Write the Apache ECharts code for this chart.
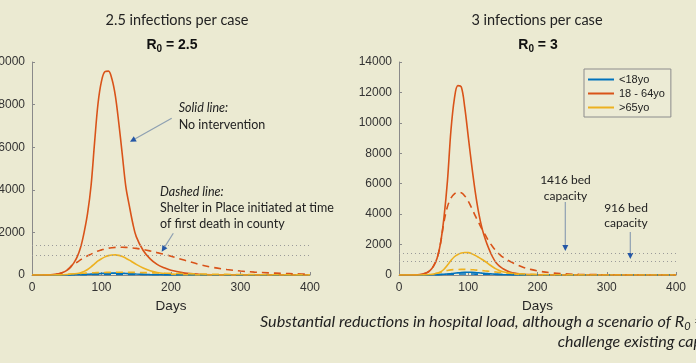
<!DOCTYPE html>
<html>
<head>
<meta charset="utf-8">
<script src="https://cdn.jsdelivr.net/npm/echarts@6/dist/echarts.min.js"></script>
<style>
html,body{margin:0;padding:0;background:#ebead2;}
#c{width:696px;height:363px;}
</style>
</head>
<body>
<div id="c"></div>
<script>
// ---- data ----
const days = [0,10,20,30,40,45,50,55,60,65,70,75,80,85,90,95,100,105,110,115,120,125,130,135,140,145,150,160,170,180,190,200,220,240,260,280,300,320,340,360,380,400];
const xTicks = [0,100,200,300,400];
const legendNames = ['<18yo','18 - 64yo','>65yo'];
const bedCapacity = [1416, 916];

// R0 = 2.5 (left)
const L_young   = [0,0,0,1,3,4,6,8,11,15,20,27,34,43,52,61,70,78,84,88,88,85,79,71,62,53,44,30,19,12,7,4,1,0,0,0,0,0,0,0,0,0];
const L_mid     = [0,0,5,20,70,130,220,360,560,850,1300,2000,2900,4200,6200,8050,9100,9550,9570,9200,8400,7100,5630,4150,3260,2430,1800,1150,760,500,340,220,90,35,12,5,0,0,0,0,0,0];
const L_old     = [0,0,0,2,8,15,25,40,55,70,110,170,260,380,520,660,760,850,910,940,945,920,870,790,700,600,500,330,200,120,70,40,12,4,0,0,0,0,0,0,0,0];
const L_young_d = [0,0,0,1,3,4,6,8,11,13,15,17,19,21,23,25,26,27,28,29,30,30,30,30,29,29,28,27,25,23,21,19,16,13,10,8,6,5,4,3,2,2];
const L_mid_d   = [0,0,5,20,70,130,220,360,560,600,720,820,900,980,1060,1130,1180,1230,1260,1280,1295,1300,1300,1295,1285,1270,1250,1200,1130,1050,970,880,690,500,360,260,185,135,100,75,55,40];
const L_old_d   = [0,0,0,2,8,15,25,40,55,65,75,85,95,102,108,113,117,120,123,125,126,127,127,126,125,123,120,113,105,95,86,78,62,48,37,28,21,16,12,9,7,5];

// R0 = 3 (right)
const R_young   = [0,0,0,1,4,7,12,20,32,48,68,90,115,140,162,178,185,180,165,145,122,100,80,63,48,36,27,15,8,4,2,1,0,0,0,0,0,0,0,0,0,0];
const R_mid     = [0,0,5,30,150,300,600,1100,2100,3800,6200,9500,11600,12450,12350,11000,9100,7200,5500,4100,3050,2300,1700,1200,820,580,420,200,100,50,25,12,3,0,0,0,0,0,0,0,0,0];
const R_old     = [0,0,0,3,15,30,60,110,200,380,650,950,1200,1350,1440,1480,1470,1400,1290,1160,1020,870,700,540,400,290,210,110,55,25,12,5,1,0,0,0,0,0,0,0,0,0];
const R_young_d = [0,0,0,1,4,7,12,20,30,38,45,51,56,60,62,63,63,62,60,58,55,52,48,45,41,38,35,29,24,19,15,12,7,4,2,1,1,0,0,0,0,0];
const R_mid_d   = [0,0,5,30,150,300,600,1100,2100,3500,4500,5050,5330,5430,5400,5200,4850,4400,3900,3450,3000,2600,2200,1880,1600,1370,1170,900,680,500,370,270,140,75,42,26,16,10,6,4,3,2];
const R_old_d   = [0,0,0,3,15,30,60,110,180,250,300,335,355,365,370,368,360,348,332,312,290,266,242,218,195,173,153,118,88,65,48,35,18,9,5,3,2,1,1,0,0,0];

// ---- styling ----
const COLORS = ['#0072BD','#D95319','#EDB120'];
const AXIS_FONT = 'Liberation Sans, Arial, sans-serif';
const NOTE_FONT = 'Lato, sans-serif';

function pairs(vals){ return days.map((d,i)=>[d, vals[i]]); }

function mk(name, vals, idx, color, dashed, extra){
  const s = {
    name: name, type:'line', xAxisIndex: idx, yAxisIndex: idx,
    data: pairs(vals), showSymbol:false, smooth:0.35, silent:true,
    lineStyle:{color:color, width:1.6, type: dashed ? [7,5] : 'solid'},
    itemStyle:{color:color}, z: dashed ? 3 : 2
  };
  return Object.assign(s, extra||{});
}
function capLines(){
  return {
    silent:true, symbol:'none', label:{show:false},
    lineStyle:{color:'#9a9a9a', type:[1,3], width:1},
    data: bedCapacity.map(v=>({yAxis:v}))
  };
}

const series = [
  mk(legendNames[0], R_young, 1, COLORS[0], false, {markLine: capLines()}),
  mk(legendNames[1], R_mid,   1, COLORS[1], false),
  mk(legendNames[2], R_old,   1, COLORS[2], false),
  mk('R young SIP', R_young_d, 1, COLORS[0], true),
  mk('R mid SIP',   R_mid_d,   1, COLORS[1], true),
  mk('R old SIP',   R_old_d,   1, COLORS[2], true),
  mk('L young', L_young, 0, COLORS[0], false, {markLine: capLines()}),
  mk('L mid',   L_mid,   0, COLORS[1], false),
  mk('L old',   L_old,   0, COLORS[2], false),
  mk('L young SIP', L_young_d, 0, COLORS[0], true),
  mk('L mid SIP',   L_mid_d,   0, COLORS[1], true),
  mk('L old SIP',   L_old_d,   0, COLORS[2], true)
];

function plain(v){ return String(v); }
function xAx(gi){
  return {
    type:'value', gridIndex:gi, min:xTicks[0], max:xTicks[xTicks.length-1], interval:100,
    name:'Days', nameLocation:'middle', nameGap:22,
    nameTextStyle:{fontFamily:AXIS_FONT, fontSize:13.5, color:'#262626'},
    axisLine:{show:true, lineStyle:{color:'#8a8a8a', width:1}},
    axisTick:{show:true, inside:true, length:3, lineStyle:{color:'#8a8a8a'}},
    axisLabel:{fontFamily:AXIS_FONT, fontSize:12, color:'#333', margin:7, formatter:plain},
    splitLine:{show:false}
  };
}
function yAx(gi, max){
  return {
    type:'value', gridIndex:gi, min:0, max:max, interval:2000,
    axisLine:{show:true, lineStyle:{color:'#8a8a8a', width:1}},
    axisTick:{show:true, inside:true, length:3, lineStyle:{color:'#8a8a8a'}},
    axisLabel:{fontFamily:AXIS_FONT, fontSize:12, color:'#333', margin:7, formatter:plain},
    splitLine:{show:false}
  };
}

// annotation helpers
function arrow(x1,y1,x2,y2){
  const dx=x2-x1, dy=y2-y1, L=Math.sqrt(dx*dx+dy*dy), ux=dx/L, uy=dy/L;
  const hl=6, hw=3;
  const bx=x2-ux*hl, by=y2-uy*hl;
  return [
    {type:'line', silent:true, shape:{x1:x1,y1:y1,x2:bx,y2:by}, style:{stroke:'#8ea0b2', lineWidth:1.2}},
    {type:'polygon', silent:true, shape:{points:[[x2,y2],[bx-uy*hw,by+ux*hw],[bx+uy*hw,by-ux*hw]]}, style:{fill:'#2457a6'}}
  ];
}
function txt(x,y,t,opt){
  return {type:'text', silent:true, x:x, y:y, style:Object.assign({text:t, fill:'#222', font:'12.5px '+NOTE_FONT, textAlign:'left', textVerticalAlign:'middle'}, opt||{})};
}
function r0(x,y,val){
  return {type:'text', silent:true, x:x, y:y, style:{
    text:'{b|R}{s|0}{b| = '+val+'}', textAlign:'center', textVerticalAlign:'middle',
    rich:{
      b:{fontFamily:AXIS_FONT, fontWeight:'bold', fontSize:14, fill:'#111', lineHeight:16},
      s:{fontFamily:AXIS_FONT, fontWeight:'bold', fontSize:10, fill:'#111', padding:[9,0,0,0], lineHeight:10}
    }}};
}

const graphic = [].concat(
  [txt(177,20.5,'2.5 infections per case',{font:'14.5px '+NOTE_FONT, textAlign:'center'}),
   r0(172,45,'2.5'),
   txt(537,20.5,'3 infections per case',{font:'14.5px '+NOTE_FONT, textAlign:'center'}),
   r0(538,45,'3'),
   txt(178.7,108,'Solid line:',{font:'italic 12.5px '+NOTE_FONT}),
   txt(178.7,125,'No intervention'),
   txt(160,191.7,'Dashed line:',{font:'italic 12.5px '+NOTE_FONT}),
   txt(160,207.5,'Shelter in Place initiated at time'),
   txt(160,223.5,'of first death in county'),
   txt(565.5,180,'1416 bed',{textAlign:'center', font:'12px '+NOTE_FONT}),
   txt(565.5,196,'capacity',{textAlign:'center', font:'12px '+NOTE_FONT}),
   txt(626,208,'916 bed',{textAlign:'center', font:'12px '+NOTE_FONT}),
   txt(626,223.5,'capacity',{textAlign:'center', font:'12px '+NOTE_FONT}),
   {type:'text', silent:true, x:260, y:321.7, style:{
      text:'{i|Substantial reductions in hospital load, although a scenario of R}{s|0}{i| = 3 would still}',
      textVerticalAlign:'middle', textAlign:'left',
      rich:{
        i:{fontFamily:NOTE_FONT, fontStyle:'italic', fontSize:16.2, fill:'#222', lineHeight:18},
        s:{fontFamily:NOTE_FONT, fontStyle:'italic', fontSize:11, fill:'#222', padding:[9,0,0,0], lineHeight:11}
      }}},
   txt(557.7,341.7,'challenge existing capacity',{font:'italic 16px '+NOTE_FONT})
  ],
  arrow(171.7,118.3,130,141.7),
  arrow(173.3,233.3,161.7,251.7),
  arrow(565.3,202,565.3,251),
  arrow(630.3,232,630.3,259)
);

const chart = echarts.init(document.getElementById('c'), null, {renderer:'canvas'});
chart.setOption({
  backgroundColor:'#ebead2',
  animation:false,
  grid:[
    {left:32, top:62, width:278, height:213, outerBoundsMode:'none', containLabel:false},
    {left:399, top:62, width:277, height:213, outerBoundsMode:'none', containLabel:false}
  ],
  xAxis:[xAx(0), xAx(1)],
  yAxis:[yAx(0,10000), yAx(1,14000)],
  legend:{
    data:legendNames, orient:'vertical', left:584, top:69,
    padding:[4,6,3,4], itemGap:1, itemWidth:26, itemHeight:2, icon:'rect',
    borderColor:'#8c8c8c', borderWidth:1, backgroundColor:'#ecebd5',
    textStyle:{fontFamily:AXIS_FONT, fontSize:11, color:'#222', lineHeight:13},
    selectedMode:false
  },
  series: series,
  graphic: graphic
});
</script>
</body>
</html>
